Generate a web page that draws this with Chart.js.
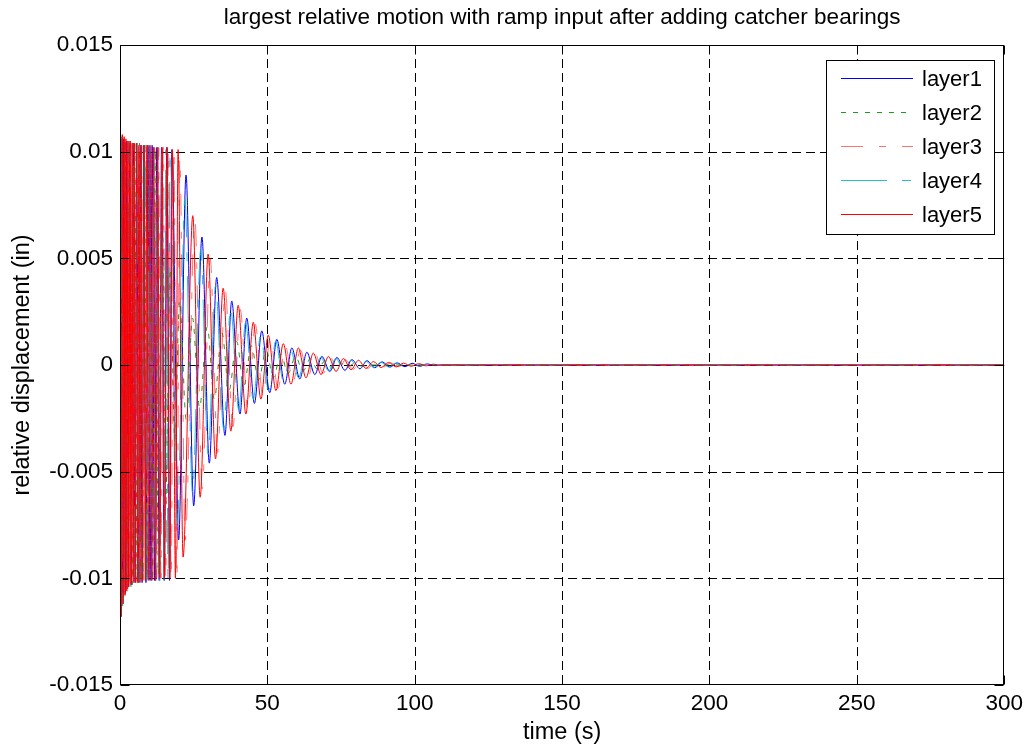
<!DOCTYPE html>
<html>
<head>
<meta charset="utf-8">
<script src="https://cdn.jsdelivr.net/npm/chart.js@4.4.1/dist/chart.umd.min.js"></script>
<style>
  html, body { margin: 0; padding: 0; background: #ffffff; }
  #wrap { width: 1028px; height: 750px; }
</style>
</head>
<body>
<div id="wrap"><canvas id="c" width="1028" height="750"></canvas></div>
<script>
// ---------------- data ----------------
const chartTitle = 'largest relative motion with ramp input after adding catcher bearings';
const xAxisTitle = 'time (s)';
const yAxisTitle = 'relative displacement (in)';
const seriesNames = ['layer1', 'layer2', 'layer3', 'layer4', 'layer5'];

const xTickValues = [0, 50, 100, 150, 200, 250, 300];
const xTickLabels = ['0', '50', '100', '150', '200', '250', '300'];
const yTickValues = [-0.015, -0.01, -0.005, 0, 0.005, 0.01, 0.015];
const yTickLabels = ['-0.015', '-0.01', '-0.005', '0', '0.005', '0.01', '0.015'];

const layer1Time = [0, 0.3, 0.8, 1.3, 1.8, 2.3, 2.8, 3.3, 3.9, 4.5, 5.1, 5.7, 6.3, 6.9, 7.5, 8.1, 8.8, 9.5, 10.2, 10.9, 11.7, 12.5, 13.3, 14.1, 15.0, 15.9, 16.8, 17.6,
  19.9, 22.4, 25.0, 27.8, 30.3, 32.8, 35.6, 37.9, 40.7, 43.0, 45.6, 48.1, 50.8, 53.2, 55.9, 58.3, 61.0, 63.4, 66.1, 68.5,
  71.2, 73.6, 76.3, 78.7, 81.4, 83.8, 86.5, 88.9, 91.6, 94.0, 96.7, 99.1, 101.8, 104.2, 106.9, 108.5, 300];
const layer1Value = [0, 0.0106, -0.0112, 0.0106, -0.0107, 0.0105, -0.0104, 0.0104, -0.0103, 0.0104, -0.0102,
  0.0104, -0.0102, 0.0103, -0.0102, 0.0103, -0.0102, 0.0103, -0.0101, 0.0103, -0.0101,
  0.0102, -0.0101, 0.0102, -0.0101, 0.0102, -0.0101, 0.0101,
  -0.0082, 0.0089, -0.0066, 0.0060, -0.0046, 0.0041, -0.0033, 0.0030, -0.0023, 0.0022,
  -0.0018, 0.0016, -0.0013, 0.0012, -0.0009, 0.0008, -0.00065, 0.0006, -0.00045, 0.0004,
  -0.0003, 0.00035, -0.00025, 0.00025, -0.00018, 0.0002, -0.00013, 0.00015, -0.0001, 0.0001,
  -0.00008, 0.00008, -0.00006, 0.00005, -0.00003, 0, 0];

const layer2Time = [0, 0.4, 1.1, 1.8, 2.6, 3.4, 4.2, 5.0, 5.8, 6.6, 7.4, 8.3, 9.2, 10.1, 11.0, 12.0, 13.0, 14.2, 15.5, 17.0,
  18.6, 20.2, 22.5, 24.6, 27.0, 29.6, 32.0, 34.6, 37.0, 39.6, 42.0, 44.6, 47.0, 49.6, 52.0, 54.6, 57.0, 59.6, 62.0, 64.6,
  67.0, 69.6, 72.0, 74.6, 77.0, 79.6, 82.0, 85.0, 300];
const layer2Value = [0, 0.0107, -0.0110, 0.0105, -0.0105, 0.0104, -0.0103, 0.0104, -0.0102, 0.0104,
  -0.0102, 0.0103, -0.0101, 0.0102, -0.0101, 0.0101, -0.0098, 0.0085, -0.0065, 0.0045,
  -0.0035, 0.0030, -0.0026, 0.0022, -0.0020, 0.0018, -0.0016, 0.0015, -0.0012, 0.0011,
  -0.0010, 0.0009, -0.0007, 0.0007, -0.0006, 0.0005, -0.0004, 0.0004, -0.0003, 0.0003,
  -0.0002, 0.0002, -0.00015, 0.00012, -0.0001, 0.00008, -0.00005, 0, 0];

const layer3Time = [0, 0.1, 0.35, 0.65, 0.95, 1.25, 1.55, 1.85, 2.15, 2.5, 2.85, 3.2, 3.55, 3.9, 4.3, 4.65, 5.0, 5.4, 5.8, 6.2, 6.6,
  7.0, 7.4, 7.85, 8.35, 8.85, 9.35, 9.9, 10.5, 11.1, 11.75, 12.45, 13.15, 13.9, 14.7, 15.55, 16.45, 17.35, 18.3, 19.3, 20.3,
  22.1, 25.4, 27.9, 30.6, 33.1, 35.7, 38.3, 40.8, 43.4, 45.9, 48.5, 51.0, 53.6, 56.1, 58.7, 61.2, 63.8, 66.3, 68.9, 71.4,
  74.0, 76.5, 79.1, 81.6, 84.2, 86.7, 89.3, 91.8, 94.4, 96.9, 99.5, 102.0, 104.6, 107.0, 300];
const layer3Value = [0, -0.0110, 0.0107, -0.0113, 0.0107, -0.0109, 0.0106, -0.0107, 0.0106, -0.0105, 0.0105,
  -0.0104, 0.0105, -0.0103, 0.0104, -0.0102, 0.0104, -0.0102, 0.0104, -0.0102, 0.0103,
  -0.0101, 0.0103, -0.0101, 0.0103, -0.0101, 0.0103, -0.0101, 0.0102, -0.0101, 0.0102,
  -0.0100, 0.0102, -0.0100, 0.0102, -0.0100, 0.0101, -0.0100, 0.0101, -0.0100, 0.0097,
  -0.0082, 0.0068, -0.0058, 0.0050, -0.0041, 0.0035, -0.0029, 0.0026, -0.0021, 0.0019,
  -0.0015, 0.0013, -0.0011, 0.0009, -0.0008, 0.0007, -0.00055, 0.0005, -0.0004, 0.00035,
  -0.0003, 0.00025, -0.0002, 0.0002, -0.00015, 0.00014, -0.0001, 0.0001, -0.00008, 0.00007,
  -0.00005, 0.00004, -0.00003, 0, 0];

const layer4Time = [0, 0.2, 0.9, 1.6, 2.3, 3.0, 3.7, 4.4, 5.1, 5.8, 6.5, 7.2, 7.9, 8.6, 9.3, 10.0, 10.7, 11.4, 12.1, 12.8, 13.5,
  14.2, 14.9, 15.6, 16.3, 17.0, 19.5, 22.0, 24.6, 27.4, 29.9, 32.4, 35.2, 37.5, 40.3, 42.6, 45.2, 47.7, 50.4, 52.8, 55.5,
  57.9, 60.6, 63.0, 65.7, 68.1, 70.8, 73.2, 75.9, 78.3, 81.0, 83.4, 86.1, 88.5, 91.2, 93.6, 96.3, 98.7, 101.4, 103.8, 106.5, 108.0, 300];
const layer4Value = [0, 0.0106, -0.0113, 0.0106, -0.0106, 0.0105, -0.0104, 0.0104, -0.0103, 0.0104, -0.0102,
  0.0103, -0.0102, 0.0103, -0.0102, 0.0103, -0.0101, 0.0102, -0.0101, 0.0102, -0.0101,
  0.0102, -0.0101, 0.0101, -0.0101, 0.0100,
  -0.0074, 0.0078, -0.0060, 0.0054, -0.0042, 0.0037, -0.0030, 0.0027, -0.0021, 0.0020,
  -0.0016, 0.0014, -0.0012, 0.0011, -0.0008, 0.0007, -0.0006, 0.00055, -0.0004, 0.00036,
  -0.00028, 0.0003, -0.00022, 0.00022, -0.00016, 0.00018, -0.00012, 0.00013, -0.0001, 0.00009,
  -0.00007, 0.00007, -0.00005, 0.00004, -0.00003, 0, 0];

const layer5Time = [0, 0.2, 0.5, 0.8, 1.1, 1.4, 1.7, 2.0, 2.3, 2.7, 3.0, 3.4, 3.7, 4.1, 4.5, 4.8, 5.2, 5.6, 6.0, 6.4,
  6.8, 7.2, 7.6, 8.1, 8.6, 9.1, 9.6, 10.2, 10.8, 11.4, 12.1, 12.8, 13.5, 14.3, 15.1, 16.0, 16.9, 17.8, 18.8, 19.7,
  21.4, 24.7, 27.2, 29.9, 32.4, 35.0, 37.6, 40.1, 42.7, 45.2, 47.8, 50.3, 52.9, 55.4, 58.0, 60.5, 63.1, 65.6, 68.2, 70.7,
  73.3, 75.8, 78.4, 80.9, 83.5, 86.0, 88.6, 91.1, 93.7, 96.2, 98.8, 101.3, 103.9, 106.4, 108.0, 300];
const layer5Value = [0, 0.0108, -0.0118, 0.0108, -0.0112, 0.0107, -0.0108, 0.0106, -0.0106, 0.0105,
  -0.0104, 0.0105, -0.0103, 0.0104, -0.0102, 0.0104, -0.0102, 0.0104, -0.0102, 0.0103,
  -0.0102, 0.0103, -0.0101, 0.0103, -0.0101, 0.0103, -0.0101, 0.0103, -0.0101, 0.0102,
  -0.0101, 0.0102, -0.0100, 0.0102, -0.0100, 0.0102, -0.0100, 0.0101, -0.0100, 0.0101,
  -0.0090, 0.0070, -0.0062, 0.0052, -0.0044, 0.0036, -0.0031, 0.0028, -0.0023, 0.0020,
  -0.0016, 0.0014, -0.0012, 0.0010, -0.0009, 0.0008, -0.0006, 0.00056, -0.00045, 0.0004,
  -0.0003, 0.0003, -0.00022, 0.00022, -0.00016, 0.00016, -0.00012, 0.00012, -0.00009, 0.00009,
  -0.00006, 0.00006, -0.00004, 0.00004, 0, 0];

// ---------------- styling ----------------
const FONT = '"Liberation Sans", Arial, Helvetica, sans-serif';
const styles = [
  { color: '#0000ff', dash: [] },
  { color: '#1f9a1f', dash: [5, 7] },
  { color: 'rgba(255,0,0,0.55)', dash: [22, 16, 7, 16] },
  { color: 'rgba(0,185,185,0.85)', dash: [46, 15, 9, 15] },
  { color: '#ff0000', dash: [] }
];
const times = [layer1Time, layer2Time, layer3Time, layer4Time, layer5Time];
const values = [layer1Value, layer2Value, layer3Value, layer4Value, layer5Value];

const datasets = seriesNames.map((name, i) => {
  if (times[i].length !== values[i].length) console.error(name + ' length mismatch');
  return {
    label: name,
    data: times[i].map((t, k) => ({ x: t, y: values[i][k] })),
    borderColor: styles[i].color,
    borderDash: styles[i].dash,
    borderWidth: 1,
    pointRadius: 0,
    fill: false,
    cubicInterpolationMode: 'monotone',
    order: 5 - i
  };
});

// ---------------- MATLAB-like axes plugin ----------------
const matlabAxes = {
  id: 'matlabAxes',
  beforeDatasetsDraw(chart) {
    const { ctx, chartArea: a, scales: { x, y } } = chart;
    ctx.save();
    ctx.strokeStyle = '#000';
    ctx.lineWidth = 1;
    ctx.setLineDash([9, 5]);
    xTickValues.forEach(v => {
      if (v === xTickValues[0] || v === xTickValues[xTickValues.length - 1]) return;
      const px = Math.round(x.getPixelForValue(v)) + 0.5;
      ctx.beginPath(); ctx.moveTo(px, a.top); ctx.lineTo(px, a.bottom); ctx.stroke();
    });
    yTickValues.forEach(v => {
      if (v === yTickValues[0] || v === yTickValues[yTickValues.length - 1]) return;
      const py = Math.round(y.getPixelForValue(v)) + 0.5;
      ctx.beginPath(); ctx.moveTo(a.left, py); ctx.lineTo(a.right, py); ctx.stroke();
    });
    ctx.restore();
  },
  afterDatasetsDraw(chart) {
    const { ctx, chartArea: a, scales: { x, y } } = chart;
    ctx.save();
    ctx.strokeStyle = '#000';
    ctx.lineWidth = 1;
    ctx.setLineDash([]);
    const L = Math.round(a.left) + 0.5, R = Math.round(a.right) - 0.5;
    const T = Math.round(a.top) + 0.5, B = Math.round(a.bottom) - 0.5;
    ctx.strokeRect(L, T, R - L, B - T);
    const tl = 9;
    xTickValues.forEach(v => {
      const px = Math.round(x.getPixelForValue(v)) + 0.5;
      ctx.beginPath();
      ctx.moveTo(px, B); ctx.lineTo(px, B - tl);
      ctx.moveTo(px, T); ctx.lineTo(px, T + tl);
      ctx.stroke();
    });
    yTickValues.forEach(v => {
      const py = Math.round(y.getPixelForValue(v)) + 0.5;
      ctx.beginPath();
      ctx.moveTo(L, py); ctx.lineTo(L + tl, py);
      ctx.moveTo(R, py); ctx.lineTo(R - tl, py);
      ctx.stroke();
    });

    // legend box
    const bx = 826.5, by = 60.5, bw = 168, bh = 174;
    ctx.fillStyle = '#fff';
    ctx.fillRect(bx, by, bw, bh);
    ctx.strokeRect(bx, by, bw, bh);
    const rowY = [78.5, 112.5, 146.5, 180.5, 214.5];
    ctx.font = '22px ' + FONT;
    ctx.textBaseline = 'middle';
    ctx.textAlign = 'left';
    seriesNames.forEach((name, i) => {
      ctx.save();
      ctx.strokeStyle = styles[i].color;
      ctx.setLineDash(styles[i].dash);
      ctx.beginPath(); ctx.moveTo(841, rowY[i]); ctx.lineTo(913, rowY[i]); ctx.stroke();
      ctx.restore();
      ctx.fillStyle = '#000';
      ctx.fillText(name, 922, rowY[i] + 1);
    });
    ctx.restore();
  }
};

new Chart(document.getElementById('c'), {
  type: 'line',
  data: { datasets },
  options: {
    responsive: false,
    animation: false,
    devicePixelRatio: 1,
    layout: { padding: { left: 0, right: 23, top: 0, bottom: 0 } },
    plugins: {
      legend: { display: false },
      tooltip: { enabled: false },
      title: { display: false }
    },
    scales: {
      top: {
        type: 'linear',
        position: 'top',
        min: 0, max: 300,
        afterFit: s => { s.height = 45; },
        ticks: { display: false },
        grid: { display: false, drawTicks: false },
        border: { display: false },
        title: {
          display: true, text: chartTitle, color: '#000',
          font: { family: FONT, size: 22.5 },
          padding: { top: 4, bottom: 0 }
        }
      },
      x: {
        type: 'linear',
        position: 'bottom',
        min: 0, max: 300,
        afterFit: s => { s.height = 65; },
        afterBuildTicks: s => { s.ticks = xTickValues.map(v => ({ value: v })); },
        ticks: {
          color: '#000', padding: 5, maxRotation: 0, autoSkip: false,
          font: { family: FONT, size: 22.5 },
          callback: (v, i) => xTickLabels[i]
        },
        grid: { display: false, drawTicks: false },
        border: { display: false },
        title: {
          display: true, text: xAxisTitle, color: '#000',
          font: { family: FONT, size: 23.5 },
          padding: { top: 0, bottom: 3 }
        }
      },
      y: {
        type: 'linear',
        min: -0.015, max: 0.015,
        afterFit: s => { s.width = 120; },
        afterBuildTicks: s => { s.ticks = yTickValues.map(v => ({ value: v })); },
        ticks: {
          color: '#000', padding: 7, autoSkip: false,
          font: { family: FONT, size: 22.5 },
          callback: (v, i) => yTickLabels[i]
        },
        grid: { display: false, drawTicks: false },
        border: { display: false },
        title: {
          display: true, text: yAxisTitle, color: '#000',
          font: { family: FONT, size: 23.5 },
          padding: { top: 8, bottom: 0 }
        }
      }
    }
  },
  plugins: [matlabAxes]
});
</script>
</body>
</html>
